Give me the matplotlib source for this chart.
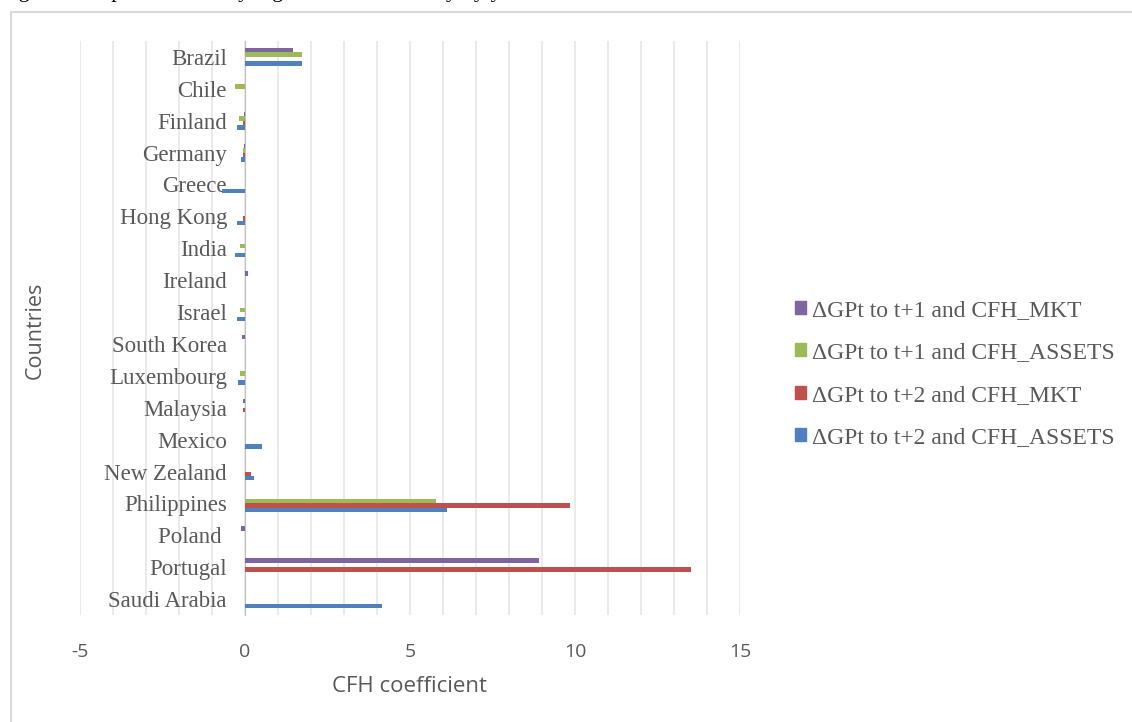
import numpy as np
import matplotlib.pyplot as plt
from matplotlib.patches import Patch, Rectangle

# countries, top to bottom
countries = ['Brazil', 'Chile', 'Finland', 'Germany', 'Greece', 'Hong Kong',
             'India', 'Ireland', 'Israel', 'South Korea', 'Luxembourg',
             'Malaysia', 'Mexico', 'New Zealand', 'Philippines', 'Poland ',
             'Portugal', 'Saudi Arabia']

# coefficients
gp1_mkt = [1.45, 0, -0.04, -0.03, 0, 0, 0, 0.08, 0, -0.08, 0,
           -0.06, 0, 0, 0, -0.12, 8.9, 0]
gp1_assets = [1.73, -0.3, -0.18, -0.05, 0, 0, -0.15, 0, -0.15, 0, -0.15,
              0, 0, 0, 5.8, 0, 0, 0]
gp2_mkt = [0, 0, -0.05, -0.05, 0, -0.05, 0, 0, 0, 0, 0,
           -0.06, 0, 0.18, 9.85, 0, 13.5, 0]
gp2_assets = [1.73, 0, -0.25, -0.12, -0.7, -0.25, -0.3, 0, -0.25, 0, -0.22,
              0, 0.5, 0.27, 6.12, 0, 0, 4.15]

xticks = [-5, 0, 5, 10, 15]
xtick_labels = ['-5', '0', '5', '10', '15']

series = [
    ('ΔGPt to t+1 and CFH_MKT', gp1_mkt, '#8064A2'),
    ('ΔGPt to t+1 and CFH_ASSETS', gp1_assets, '#9BBB59'),
    ('ΔGPt to t+2 and CFH_MKT', gp2_mkt, '#C0504D'),
    ('ΔGPt to t+2 and CFH_ASSETS', gp2_assets, '#4F81BD'),
]

grey = '#595959'
serif = ['Liberation Serif', 'DejaVu Serif']
sans = ['Open Sans', 'DejaVu Sans']

fig = plt.figure(figsize=(11.32, 7.22), dpi=100)
ax = fig.add_axes([80 / 1132, 1 - 615 / 722, 660 / 1132, 574 / 722])

# move the category axis to x = 0 first (this resets the tick labels)
for s in ['top', 'right', 'bottom']:
    ax.spines[s].set_visible(False)
ax.spines['left'].set_position(('data', 0))
ax.spines['left'].set_color('#BFBFBF')

y = np.arange(len(countries))
h = 0.14
for i, (name, vals, col) in enumerate(series):
    ax.barh(y + (i - 1.5) * h, vals, height=h, color=col, zorder=3,
            label=name)

ax.set_xlim(-5, 15)
ax.set_ylim(len(countries) - 0.5, -0.5)
ax.set_xticks(xticks)
ax.set_xticklabels(xtick_labels, family=sans, fontsize=14, color=grey)
ax.set_xticks(np.arange(-5, 16, 1), minor=True)
ax.grid(True, axis='x', which='both', color='#E6E6E6', lw=1.2, zorder=0)
ax.tick_params(axis='x', which='both', length=0, pad=20)

ax.set_yticks(y)
ax.set_yticklabels(countries, family=serif, fontsize=16.5, color=grey)
ax.tick_params(axis='y', length=0, pad=13)

ax.set_xlabel('CFH coefficient', family=sans, fontsize=16, color=grey,
              labelpad=11)
fig.text(35 / 1132, 1 - 330 / 722, 'Countries', rotation=90, family=sans,
         fontsize=15.5, color=grey, ha='center', va='center')

handles = [Patch(color=c) for _, _, c in series]
fig.legend(handles, [n for n, _, _ in series], loc='center left',
           bbox_to_anchor=(795 / 1132, 1 - 374 / 722), frameon=False,
           prop={'family': serif, 'size': 17}, labelcolor=grey,
           handlelength=0.47, handleheight=0.47, handletextpad=0.25,
           labelspacing=0.9, borderpad=0, borderaxespad=0)

# outer chart frame and the clipped caption line above it
fig.patches.append(Rectangle((11 / 1132, -0.05), 1.1, 1.05 - 12 / 722,
                             transform=fig.transFigure, fill=False,
                             edgecolor='#D9D9D9', lw=1.5))
fig.text(0, 1 + 3 / 722, 'Figure 4: Impact of CFH by regression and country by year',
         family=serif, fontsize=16, va='baseline', ha='left')

fig.savefig('out.png', dpi=100)
